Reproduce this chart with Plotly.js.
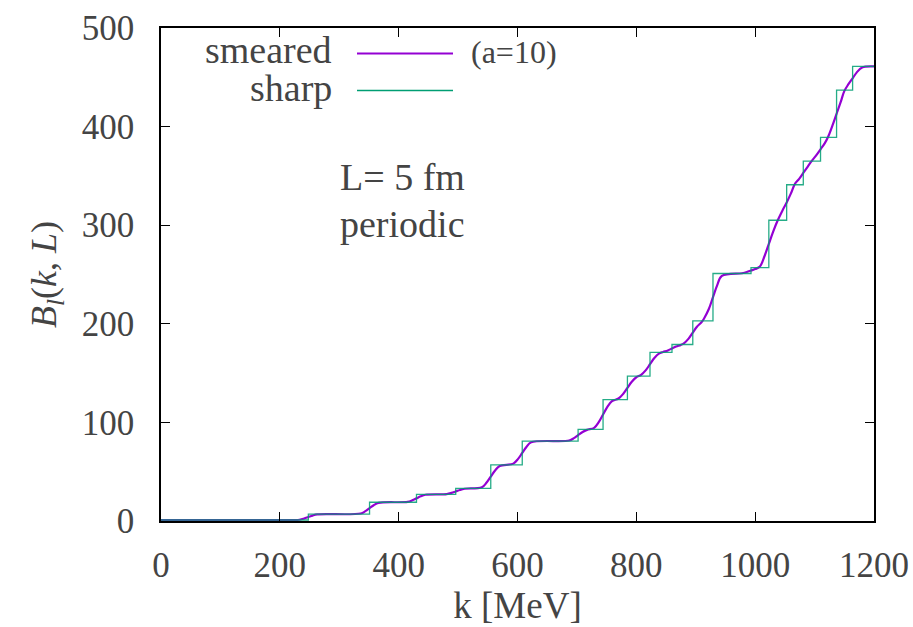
<!DOCTYPE html>
<html>
<head>
<meta charset="utf-8">
<script src="https://cdn.plot.ly/plotly-3.0.1.min.js"></script>
<style>
html,body{margin:0;padding:0;background:#fff;}
#chart{width:913px;height:627px;}
</style>
</head>
<body>
<div id="chart"></div>
<script>
// Sharp step function: jump positions k [MeV] and the level reached at each jump
var sharpK = [0, 248, 351, 430, 496, 555, 608, 702, 744, 785, 823, 860, 895, 929, 993, 1023, 1053, 1081, 1110, 1137, 1164, 1200];
var sharpB = [1, 7, 19, 27, 33, 57, 81, 93, 123, 147, 171, 179, 203, 251, 257, 305, 341, 365, 389, 437, 461, 461];

// Smeared curve (a=10)
var smearK = [0, 200, 233, 241, 248, 255, 263,
  336, 344, 351, 358, 366,
  415, 423, 430, 437, 445,
  481, 489, 496, 503, 511,
  540, 548, 555, 562, 570,
  593, 601, 608, 615, 623,
  687, 695, 702, 709, 717,
  729, 737, 744, 751, 759,
  770, 778, 785, 792, 800,
  808, 816, 823, 830, 838,
  845, 853, 860, 867, 875,
  880, 888, 895, 902, 910,
  914, 922, 929, 936, 944,
  978, 986, 993, 1000,
  1008, 1016, 1023, 1030,
  1038, 1046, 1053, 1060,
  1067, 1074, 1081, 1088,
  1095, 1103, 1110, 1117,
  1123, 1130, 1137, 1144,
  1150, 1157, 1164, 1171, 1180, 1200];
var smearB = [1, 1, 1.3, 2.5, 4, 5.5, 6.7,
  7.6, 10, 13, 16, 18.4,
  19.4, 21, 23, 25, 26.6,
  27.3, 28.5, 30, 31.5, 32.7,
  34.2, 39, 45, 51, 55.8,
  58.2, 63, 69, 75, 79.8,
  81.6, 84, 87, 90, 92.4,
  94.5, 100.5, 108, 115.5, 121.5,
  124.2, 129, 135, 141, 145.8,
  148.2, 153, 159, 165, 169.8,
  171.4, 173, 175, 177, 178.6,
  180.2, 185, 191, 197, 201.8,
  205.4, 215, 227, 239, 248.6,
  251.3, 252.5, 254, 255.5,
  258, 269, 281, 293,
  305, 315, 323, 332,
  342, 347, 353, 359,
  365, 371, 377, 383,
  390, 401, 413, 425,
  436, 443, 449, 455, 460, 461];

var xTicks = [0, 200, 400, 600, 800, 1000, 1200];
var yTicks = [0, 100, 200, 300, 400, 500];

var FONT = 'Liberation Serif';
var purple = '#9400d3', teal = '#009e73';

var traces = [
  {x: smearK, y: smearB, type: 'scatter', mode: 'lines', name: 'smeared',
   line: {color: purple, width: 2.2, shape: 'spline', smoothing: 1}, showlegend: false, hoverinfo: 'skip'},
  {x: sharpK, y: sharpB, type: 'scatter', mode: 'lines', name: 'sharp',
   line: {color: teal, width: 1.3, shape: 'hv'}, opacity: 0.85, showlegend: false, hoverinfo: 'skip'}
];

var px = function (p) { return (p - 161) / 713; };
var py = function (p) { return (521 - p) / 493; };

var layout = {
  width: 913, height: 627,
  margin: {l: 161, r: 39, t: 28, b: 106},
  paper_bgcolor: '#fff', plot_bgcolor: '#fff',
  showlegend: false,
  xaxis: {
    range: [0, 1200], tickvals: xTicks, ticktext: xTicks.map(String),
    showgrid: false, zeroline: false, showline: true, linecolor: '#000', linewidth: 1.5,
    mirror: 'ticks', ticks: 'inside', ticklen: 9, tickwidth: 1.2, tickcolor: '#000',
    ticklabelstandoff: 12,
    tickfont: {family: FONT, size: 35},
    title: {text: 'k [MeV]', font: {family: FONT, size: 37}, standoff: 6}
  },
  yaxis: {
    range: [0, 500], tickvals: yTicks, ticktext: yTicks.map(String),
    showgrid: false, zeroline: false, showline: true, linecolor: '#000', linewidth: 1.5,
    mirror: 'ticks', ticks: 'inside', ticklen: 9, tickwidth: 1.2, tickcolor: '#000',
    ticklabelstandoff: 18,
    tickfont: {family: FONT, size: 35},
    title: {text: '<i>B</i><sub><i>l</i></sub>(<i>k</i>, <i>L</i>)', font: {family: FONT, size: 36}, standoff: 14}
  },
  shapes: [
    {type: 'line', xref: 'paper', yref: 'paper', x0: px(357), x1: px(453), y0: py(53.5), y1: py(53.5),
     line: {color: purple, width: 2}},
    {type: 'line', xref: 'paper', yref: 'paper', x0: px(357), x1: px(453), y0: py(90.5), y1: py(90.5),
     line: {color: teal, width: 1.3}}
  ],
  annotations: [
    {text: 'smeared', xref: 'paper', yref: 'paper', x: px(334), y: py(50), xanchor: 'right', yanchor: 'middle',
     showarrow: false, font: {family: FONT, size: 38}},
    {text: 'sharp', xref: 'paper', yref: 'paper', x: px(334), y: py(88), xanchor: 'right', yanchor: 'middle',
     showarrow: false, font: {family: FONT, size: 38}},
    {text: '(a=10)', xref: 'paper', yref: 'paper', x: px(469), y: py(52), xanchor: 'left', yanchor: 'middle',
     showarrow: false, font: {family: FONT, size: 32}},
    {text: 'L= 5 fm', xref: 'paper', yref: 'paper', x: px(338), y: py(177), xanchor: 'left', yanchor: 'middle',
     showarrow: false, font: {family: FONT, size: 38}},
    {text: 'periodic', xref: 'paper', yref: 'paper', x: px(338), y: py(224), xanchor: 'left', yanchor: 'middle',
     showarrow: false, font: {family: FONT, size: 38}}
  ]
};

Plotly.newPlot('chart', traces, layout, {displayModeBar: false});
</script>
</body>
</html>
